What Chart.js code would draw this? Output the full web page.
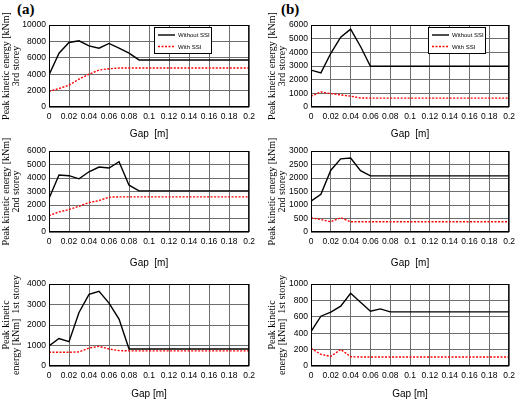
<!DOCTYPE html>
<html>
<head>
<meta charset="utf-8">
<script src="https://cdn.jsdelivr.net/npm/chart.js@4"></script>
<style>
  body { margin: 0; background: #fff; }
  #wrap { position: relative; width: 520px; height: 400px; overflow: hidden; }
  canvas { position: absolute; }
  .tag { position: absolute; font: bold 15px "Liberation Serif", serif; color: #000; }
</style>
</head>
<body>
<div id="wrap">
  <div class="tag" style="left:17px; top:1px;">(a)</div>
  <div class="tag" style="left:281px; top:1px;">(b)</div>
  <canvas id="a3"></canvas>
  <canvas id="b3"></canvas>
  <canvas id="a2"></canvas>
  <canvas id="b2"></canvas>
  <canvas id="a1"></canvas>
  <canvas id="b1"></canvas>
</div>
<script>
// gap values [m]
const gapValues = [0, 0.01, 0.02, 0.03, 0.04, 0.05, 0.06, 0.07, 0.08, 0.09, 0.10,
                   0.11, 0.12, 0.13, 0.14, 0.15, 0.16, 0.17, 0.18, 0.19, 0.20];

// 3rd storey
const a3NoSSI = [3900, 6560, 7870, 8070, 7460, 7170, 7750, 7170, 6560, 5740, 5740,
                 5740, 5740, 5740, 5740, 5740, 5740, 5740, 5740, 5740, 5740];
const a3SSI   = [1900, 2250, 2660, 3400, 4000, 4500, 4670, 4750, 4750, 4750, 4750,
                 4750, 4750, 4750, 4750, 4750, 4750, 4750, 4750, 4750, 4750];
const b3NoSSI = [2700, 2500, 3930, 5110, 5700, 4430, 2980, 2980, 2980, 2980, 2980,
                 2980, 2980, 2980, 2980, 2980, 2980, 2980, 2980, 2980, 2980];
const b3SSI   = [790, 1100, 980, 890, 790, 660, 650, 650, 650, 650, 650,
                 650, 650, 650, 650, 650, 650, 650, 650, 650, 650];

// 2nd storey
const a2NoSSI = [2480, 4220, 4170, 3940, 4460, 4810, 4740, 5210, 3470, 3050, 3050,
                 3050, 3050, 3050, 3050, 3050, 3050, 3050, 3050, 3050, 3050];
const a2SSI   = [1210, 1490, 1660, 1910, 2180, 2330, 2580, 2600, 2600, 2600, 2600,
                 2600, 2600, 2600, 2600, 2600, 2600, 2600, 2600, 2600, 2600];
const b2NoSSI = [1140, 1400, 2290, 2710, 2740, 2270, 2080, 2080, 2080, 2080, 2080,
                 2080, 2080, 2080, 2080, 2080, 2080, 2080, 2080, 2080, 2080];
const b2SSI   = [530, 460, 380, 530, 380, 380, 380, 380, 380, 380, 380,
                 380, 380, 380, 380, 380, 380, 380, 380, 380, 380];

// 1st storey
const a1NoSSI = [980, 1340, 1190, 2610, 3490, 3640, 3070, 2290, 830, 830, 830,
                 830, 830, 830, 830, 830, 830, 830, 830, 830, 830];
const a1SSI   = [670, 670, 670, 690, 880, 960, 830, 750, 740, 740, 740,
                 740, 740, 740, 740, 740, 740, 740, 740, 740, 740];
const b1NoSSI = [420, 607, 656, 729, 887, 777, 668, 696, 660, 660, 660,
                 660, 660, 660, 660, 660, 660, 660, 660, 660, 660];
const b1SSI   = [215, 142, 117, 202, 113, 110, 110, 110, 110, 110, 110,
                 110, 110, 110, 110, 110, 110, 110, 110, 110, 110];

const seriesNames = ['Without SSI', 'With SSI'];
const titles3 = ['Peak kinetic energy [kNm]', '3rd storey'];
const titles2 = ['Peak kinetic energy [kNm]', '2nd storey'];
const titles1 = ['Peak kinetic', 'energy [kNm]  1st storey'];
const xTitles = ['Gap  [m]', 'Gap  [m]', 'Gap [m]'];

// frame round the plot area
const framePlugin = {
    id: 'frame',
    afterDatasetsDraw(chart) {
        const { ctx, chartArea: a } = chart;
        ctx.save();
        ctx.strokeStyle = '#000';
        ctx.lineWidth = 1;
        ctx.strokeRect(a.left + 0.5, a.top + 0.5, a.width - 1, a.height - 1);
        ctx.restore();
    }
};

// small boxed legend drawn inside the plot
const boxLegendPlugin = {
    id: 'boxLegend',
    afterDraw(chart, args, opts) {
        if (!opts || !opts.show) return;
        const { ctx, chartArea: a } = chart;
        const x = a.left + opts.x, y = a.top + opts.y;
        ctx.save();
        ctx.fillStyle = '#fff';
        ctx.fillRect(x, y, opts.w, opts.h);
        ctx.strokeStyle = '#000';
        ctx.lineWidth = 1;
        ctx.strokeRect(x + 0.5, y + 0.5, opts.w, opts.h);
        chart.data.datasets.forEach((ds, i) => {
            const ly = y + 8 + i * 11.5;
            ctx.strokeStyle = ds.borderColor;
            ctx.lineWidth = 1.4;
            ctx.setLineDash(ds.borderDash || []);
            ctx.beginPath();
            ctx.moveTo(x + 4, ly);
            ctx.lineTo(x + 21, ly);
            ctx.stroke();
            ctx.setLineDash([]);
            ctx.fillStyle = '#000';
            ctx.font = '6px "Liberation Sans", Arial, sans-serif';
            ctx.textBaseline = 'middle';
            ctx.fillText(ds.label, x + opts.tx, ly + 0.5);
        });
        ctx.restore();
    }
};

function placeCanvas(id, left, top, width, height) {
    const c = document.getElementById(id);
    c.style.left = left + 'px';
    c.style.top = top + 'px';
    c.width = width;
    c.height = height;
    c.style.width = width + 'px';
    c.style.height = height + 'px';
    return c;
}

function makePanel(id, box, noSSI, withSSI, yMax, yStep, yTitle, xTitle, legend) {
    const canvas = placeCanvas(id, box.left, box.top, box.width, box.height);
    return new Chart(canvas.getContext('2d'), {
        type: 'line',
        data: {
            datasets: [{
                label: seriesNames[0],
                data: gapValues.map((g, i) => ({ x: g, y: noSSI[i] })),
                borderColor: '#000000',
                borderWidth: 1.4,
                pointRadius: 0,
                tension: 0,
                fill: false
            }, {
                label: seriesNames[1],
                data: gapValues.map((g, i) => ({ x: g, y: withSSI[i] })),
                borderColor: '#ff0000',
                borderWidth: 1.4,
                borderDash: [2, 1.5],
                pointRadius: 0,
                tension: 0,
                fill: false
            }]
        },
        options: {
            responsive: false,
            animation: false,
            layout: { padding: { top: box.padTop, right: box.padRight, left: 0, bottom: 0 } },
            plugins: {
                legend: { display: false },
                tooltip: { enabled: false },
                boxLegend: legend || { show: false }
            },
            scales: {
                x: {
                    type: 'linear',
                    min: 0,
                    max: 0.2,
                    afterFit: s => { s.height = box.xAxisH; },
                    grid: { color: '#6e6e6e', lineWidth: 1, drawTicks: false },
                    border: { display: false },
                    ticks: {
                        stepSize: 0.02,
                        autoSkip: false,
                        maxRotation: 0,
                        padding: 5,
                        color: '#000',
                        font: { family: '"Liberation Sans", Arial, sans-serif', size: 8.5 },
                        callback: v => String(+v.toFixed(2))
                    },
                    title: {
                        display: true,
                        text: xTitle,
                        color: '#000',
                        padding: { top: 0, bottom: 1 },
                        font: { family: '"Liberation Sans", Arial, sans-serif', size: 10, lineHeight: 1 }
                    }
                },
                y: {
                    min: 0,
                    max: yMax,
                    afterFit: s => { s.width = box.yAxisW; },
                    grid: { color: '#6e6e6e', lineWidth: 1, drawTicks: false },
                    border: { display: false },
                    ticks: {
                        stepSize: yStep,
                        padding: 3,
                        color: '#000',
                        font: { family: '"Liberation Sans", Arial, sans-serif', size: 8.5 },
                        callback: v => String(v)
                    },
                    title: {
                        display: true,
                        text: yTitle,
                        color: '#000',
                        padding: { top: 1, bottom: 0 },
                        font: { family: '"Liberation Serif", "Times New Roman", serif', size: 10, lineHeight: 1 }
                    }
                }
            }
        },
        plugins: [framePlugin, boxLegendPlugin]
    });
}

const colA = { left: 0, width: 260, yAxisW: 49, padRight: 9 };
const colB = { left: 266, width: 254, yAxisW: 45, padRight: 7 };
const row3 = { top: 0, height: 140, padTop: 25, xAxisH: 33 };
const row2 = { top: 126, height: 143, padTop: 25, xAxisH: 37 };
const row1 = { top: 258, height: 142, padTop: 26, xAxisH: 34 };

makePanel('a3', { ...colA, ...row3 }, a3NoSSI, a3SSI, 10000, 2000, titles3, xTitles[0],
    { show: true, x: 105, y: 2, w: 57, h: 26, tx: 24 });
makePanel('b3', { ...colB, ...row3 }, b3NoSSI, b3SSI, 6000, 1000, titles3, xTitles[0],
    { show: true, x: 117, y: 2, w: 57, h: 26, tx: 24 });
makePanel('a2', { ...colA, ...row2 }, a2NoSSI, a2SSI, 6000, 1000, titles2, xTitles[1]);
makePanel('b2', { ...colB, ...row2 }, b2NoSSI, b2SSI, 3000, 500, titles2, xTitles[1]);
makePanel('a1', { ...colA, ...row1 }, a1NoSSI, a1SSI, 4000, 1000, titles1, xTitles[2]);
makePanel('b1', { ...colB, ...row1 }, b1NoSSI, b1SSI, 1000, 200, titles1, xTitles[2]);
</script>
</body>
</html>
